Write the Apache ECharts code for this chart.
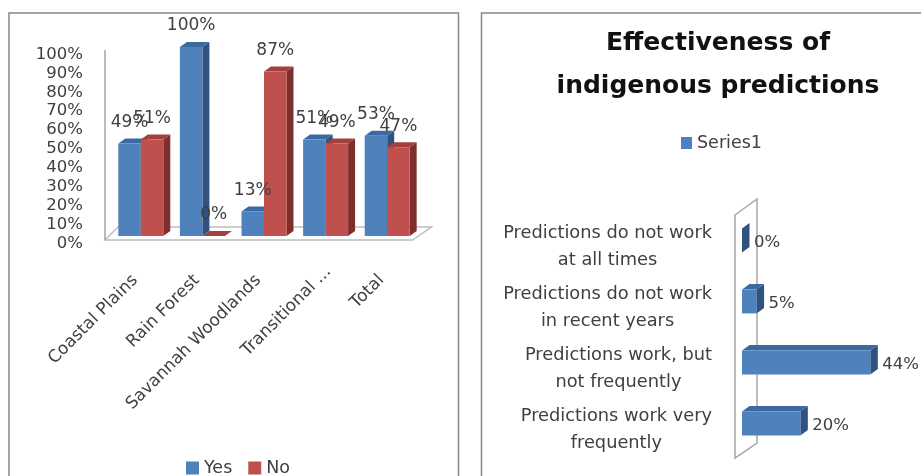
<!DOCTYPE html>
<html>
<head>
<meta charset="utf-8">
<title>Indigenous predictions</title>
<script src="https://cdn.jsdelivr.net/npm/echarts@6/dist/echarts.min.js"></script>
<style>
html,body{margin:0;padding:0;background:#fff;}
#main{width:921px;height:476px;}
</style>
</head>
<body>
<div id="main"></div>
<script>
var regions = ['Coastal Plains', 'Rain Forest', 'Savannah Woodlands', 'Transitional ...', 'Total'];
var yesValues = [49, 100, 13, 51, 53];
var noValues = [51, 0, 87, 49, 47];

// bottom row first, the axis runs upwards
var answers = [
	'Predictions work very\nfrequently',
	'Predictions work, but\nnot frequently',
	'Predictions do not work\nin recent years',
	'Predictions do not work\nat all times'
];
var answerValues = [20, 44, 5, 0];

var font = 'DejaVu Sans';
var textColor = '#404040';
var blue = {front: '#4f81bd', top: '#3b6aa3', side: '#2f5280'};
var red = {front: '#c0504d', top: '#a33f3c', side: '#7e2f2d'};

//竖向柱子,假3D
function columnItem(color, side) {
	return function (params, api) {
		var p = api.coord([api.value(0), api.value(1)]);
		var base = api.coord([api.value(0), 0]);
		var w = api.size([1, 0])[0] * 0.365;
		var x = side < 0 ? p[0] - w : p[0];
		var dx = 7, dy = 5;
		return {
			type: 'group',
			children: [
				{type: 'polygon', shape: {points: [[x + w, p[1]], [x + w + dx, p[1] - dy], [x + w + dx, base[1] - dy], [x + w, base[1]]]}, style: {fill: color.side}},
				{type: 'polygon', shape: {points: [[x, p[1]], [x + dx, p[1] - dy], [x + w + dx, p[1] - dy], [x + w, p[1]]]}, style: {fill: color.top}},
				{type: 'rect', shape: {x: x, y: p[1], width: w, height: base[1] - p[1]}, style: {fill: color.front}},
				{type: 'text', z2: 50, style: {text: api.value(1) + '%', x: x + w / 2, y: p[1] - 21, align: 'center', verticalAlign: 'middle', font: '17px "' + font + '"', fill: textColor}}
			]
		};
	};
}

//横向柱子
function barItem(params, api) {
	var p = api.coord([api.value(0), api.value(1)]);
	var base = api.coord([0, api.value(1)]);
	var h = api.size([0, 1])[1] * 0.39;
	var y = p[1] - h / 2;
	var dx = 7.5, dy = 5.5;
	return {
		type: 'group',
		children: [
			{type: 'polygon', shape: {points: [[p[0], y], [p[0] + dx, y - dy], [p[0] + dx, y + h - dy], [p[0], y + h]]}, style: {fill: blue.side}},
			{type: 'polygon', shape: {points: [[base[0], y], [base[0] + dx, y - dy], [p[0] + dx, y - dy], [p[0], y]]}, style: {fill: blue.top}},
			{type: 'rect', shape: {x: base[0], y: y, width: p[0] - base[0], height: h}, style: {fill: blue.front}},
			{type: 'text', z2: 50, style: {text: api.value(0) + '%', x: p[0] + 12, y: p[1] + 2, align: 'left', verticalAlign: 'middle', font: '16.5px "' + font + '"', fill: textColor}}
		]
	};
}

//左图底板和竖线
function floorItem(params) {
	var c = params.coordSys;
	var b = c.y + c.height;
	return {
		type: 'group',
		children: [
			{type: 'polygon', shape: {points: [[c.x - 5, b + 4], [c.x + 8, b - 9], [c.x + c.width + 13.5, b - 9], [c.x + c.width - 5.5, b + 4]]}, style: {fill: '#fff', stroke: '#bfbfbf', lineWidth: 1.5}},
			{type: 'line', shape: {x1: c.x - 5, y1: c.y + 3, x2: c.x - 5, y2: b + 4}, style: {stroke: '#a6a6a6', lineWidth: 1.5}}
		]
	};
}

//右图竖板
function wallItem(params) {
	var c = params.coordSys;
	var b = c.y + c.height;
	return {
		type: 'polygon',
		shape: {points: [[c.x - 7, c.y + 5], [c.x + 15, c.y - 11], [c.x + 15, b - 11], [c.x - 7, b + 4]]},
		style: {fill: '#fff', stroke: '#a6a6a6', lineWidth: 1.5}
	};
}

var option = {
	animation: false,
	backgroundColor: '#fff',
	title: {
		text: 'Effectiveness of\nindigenous predictions',
		left: 713,
		top: 17,
		textAlign: 'center',
		textStyle: {fontFamily: font, fontWeight: 'bold', fontSize: 25, lineHeight: 43, color: '#111'}
	},
	legend: [
		{
			data: ['Yes', 'No'], left: 181, top: 454, itemWidth: 13, itemHeight: 13, itemGap: 16, icon: 'rect',
			textStyle: {fontFamily: font, fontSize: 17.5, color: textColor}
		},
		{
			data: ['Series1'], left: 676, top: 129, itemWidth: 11, itemHeight: 12, icon: 'rect',
			textStyle: {fontFamily: font, fontSize: 17.5, color: textColor}
		}
	],
	graphic: [
		{type: 'rect', silent: true, z: -1, shape: {x: 9, y: 13, width: 449.5, height: 480}, style: {fill: 'none', stroke: '#868686', lineWidth: 1.5}},
		{type: 'rect', silent: true, z: -1, shape: {x: 481.5, y: 13, width: 480, height: 480}, style: {fill: 'none', stroke: '#868686', lineWidth: 1.5}}
	],
	grid: [
		{left: 110, top: 47, width: 308, height: 189},
		{left: 742, top: 210, width: 175, height: 244}
	],
	xAxis: [
		{
			type: 'category', gridIndex: 0,
			// the truncated label sits further up the slope than the others
			data: regions.map(function (r) {
				return r === 'Transitional ...' ? {value: r, textStyle: {padding: [0, -4, 0, 0]}} : r;
			}),
			axisLine: {show: false}, axisTick: {show: false},
			axisLabel: {rotate: 45, margin: 36, interval: 0, padding: [0, 8, 0, 0], fontFamily: font, fontSize: 17, color: textColor}
		},
		{type: 'value', gridIndex: 1, min: 0, max: 60, show: false}
	],
	yAxis: [
		{
			type: 'value', gridIndex: 0, min: 0, max: 100, interval: 10,
			axisLine: {show: false}, axisTick: {show: false}, splitLine: {show: false},
			axisLabel: {
				margin: 27, fontFamily: font, fontSize: 16.5, color: textColor,
				formatter: '{l|{value}%}',
				rich: {l: {fontFamily: font, fontSize: 16.5, color: textColor, padding: [15, 0, 0, 0]}}
			}
		},
		{
			type: 'category', gridIndex: 1, data: answers,
			axisLine: {show: false}, axisTick: {show: false},
			axisLabel: {
				margin: 30, interval: 0, padding: [13, 0, 0, 0],
				formatter: function (v) {
					return v.split('\n').map(function (s) { return '{l|' + s + '}'; }).join('\n');
				},
				rich: {l: {align: 'center', fontFamily: font, fontSize: 17.8, lineHeight: 27, color: textColor}}
			}
		}
	],
	series: [
		{type: 'custom', silent: true, z: 1, xAxisIndex: 0, yAxisIndex: 0, data: [[0, 0]], renderItem: floorItem},
		{type: 'custom', silent: true, z: 1, xAxisIndex: 1, yAxisIndex: 1, data: [[0, 0]], renderItem: wallItem},
		{
			name: 'Yes', type: 'custom', z: 2, xAxisIndex: 0, yAxisIndex: 0, itemStyle: {color: blue.front},
			data: yesValues.map(function (v, i) { return [i, v]; }), renderItem: columnItem(blue, -1)
		},
		{
			name: 'No', type: 'custom', z: 2, xAxisIndex: 0, yAxisIndex: 0, itemStyle: {color: red.front},
			data: noValues.map(function (v, i) { return [i, v]; }), renderItem: columnItem(red, 1)
		},
		{
			name: 'Series1', type: 'custom', z: 2, xAxisIndex: 1, yAxisIndex: 1, itemStyle: {color: blue.front},
			data: answerValues.map(function (v, i) { return [v, i]; }), renderItem: barItem
		}
	]
};
echarts.init(document.getElementById('main')).setOption(option);
</script>
</body>
</html>
